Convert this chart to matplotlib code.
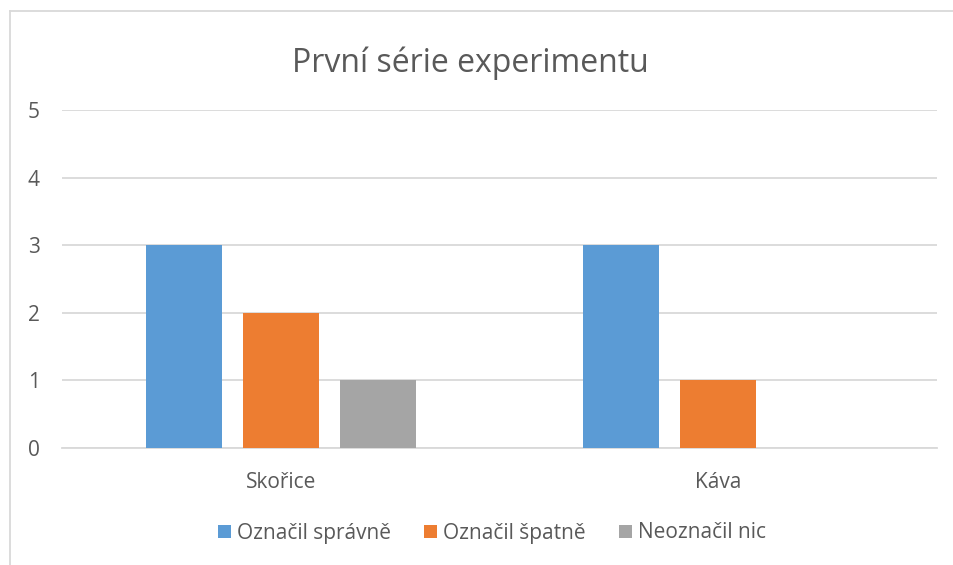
import matplotlib.pyplot as plt
import numpy as np
from matplotlib.lines import Line2D

categories = ['Skořice', 'Káva']
series_names = ['Označil správně', 'Označil špatně', 'Neoznačil nic']
spravne = [3, 3]
spatne = [2, 1]
nic = [1, 0]
colors = ['#5B9BD5', '#ED7D31', '#A5A5A5']
text_color = '#595959'
grid_color = '#D9D9D9'

plt.rcParams['font.family'] = ['Open Sans', 'DejaVu Sans']

fig = plt.figure(figsize=(9.54, 5.65), dpi=100)
ax = fig.add_axes([62 / 954, 117 / 565, 875 / 954, 338 / 565])

x = np.arange(len(categories))
width = 0.174
step = 0.222
for i, (vals, name) in enumerate(zip([spravne, spatne, nic], series_names)):
    ax.bar(x + (i - 1) * step, vals, width, color=colors[i], label=name, zorder=3)

ax.set_xlim(-0.5, 1.5)
ax.set_ylim(0, 5)
ax.set_yticks(range(6))
ax.set_xticks(x)
ax.set_xticklabels(categories)
ax.grid(axis='y', color=grid_color, linewidth=1.3, zorder=0)
for s in ['top', 'right', 'left']:
    ax.spines[s].set_visible(False)
ax.spines['bottom'].set_color(grid_color)
ax.spines['bottom'].set_linewidth(1.3)
ax.tick_params(axis='both', length=0, labelcolor=text_color, labelsize=15)
ax.tick_params(axis='y', pad=16)
ax.tick_params(axis='x', pad=17)

fig.text(470 / 954, 1 - 63 / 565, 'První série experimentu', ha='center', va='center',
         fontsize=23, color=text_color)

leg = fig.legend(loc='center', bbox_to_anchor=(492 / 954, 1 - 533 / 565), ncol=3,
                 frameon=False, fontsize=15, handlelength=0.6, handleheight=0.6,
                 handletextpad=0.3, columnspacing=1.6, labelcolor=text_color)

# light frame visible on the left and top of the screenshot
fig.add_artist(Line2D([10 / 954, 10 / 954], [0, 1 - 11 / 565], color='#D9D9D9', linewidth=1.3))
fig.add_artist(Line2D([10 / 954, 1], [1 - 11 / 565, 1 - 11 / 565], color='#D9D9D9', linewidth=1.3))

fig.savefig('out.png', dpi=100)
